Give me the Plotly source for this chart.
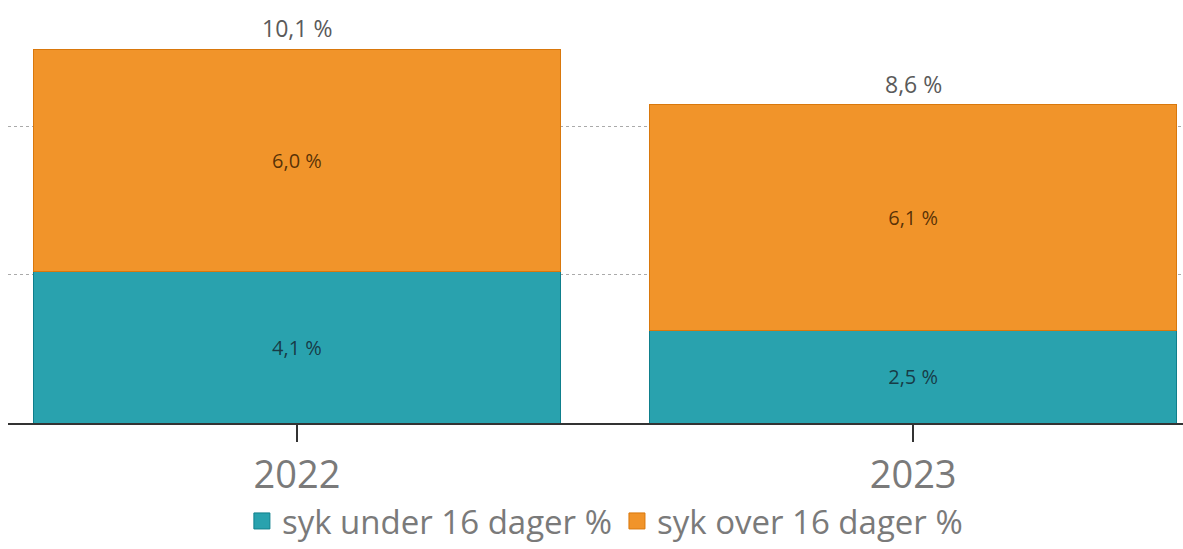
import plotly.graph_objects as go

years = ["2022", "2023"]
under_16 = [4.1, 2.5]
over_16 = [6.0, 6.1]
totals = [round(a + b, 1) for a, b in zip(under_16, over_16)]

series_names = ["syk under 16 dager %", "syk over 16 dager %"]
fill_colors = ["#29A2AE", "#F1942A"]
edge_colors = ["#0E7F8C", "#D9780C"]
label_colors = ["rgba(20,40,50,0.85)", "rgba(60,30,0,0.85)"]

fig = go.Figure()
for vals, name, fc, ec, lc in zip([under_16, over_16], series_names, fill_colors, edge_colors, label_colors):
    fig.add_trace(go.Bar(
        x=years, y=vals, name=name, showlegend=False,
        marker=dict(color=fc, line=dict(color=ec, width=1)),
        texttemplate="%{y:.1f} %", textposition="inside", insidetextanchor="middle",
        textfont=dict(size=20, color=lc, family="Open Sans"),
        hoverinfo="skip",
    ))
# legend entries (larger square symbols)
for name, fc, ec in zip(series_names, fill_colors, edge_colors):
    fig.add_trace(go.Scatter(
        x=[None], y=[None], mode="markers", name=name,
        marker=dict(symbol="square", size=16, color=fc, line=dict(color=ec, width=1)),
        hoverinfo="skip",
    ))

for i, t in enumerate(totals):
    fig.add_annotation(
        x=i, y=t, xref="x", yref="y",
        text=f"{t:.1f}".replace(".", ",") + " %", showarrow=False,
        yanchor="bottom", yshift=3,
        font=dict(size=23, color="#5a5a5a", family="Open Sans"),
    )

fig.update_layout(
    width=1183, height=549,
    margin=dict(l=8, r=0, t=0, b=126),
    barmode="stack", bargap=0.145,
    separators=", ",
    plot_bgcolor="white", paper_bgcolor="white",
    font=dict(family="Open Sans", color="#666666"),
    showlegend=True,
    legend=dict(orientation="h", x=0.508, xanchor="center", y=-0.232, yanchor="middle",
                traceorder="normal", font=dict(size=33, color="#7a7a7a"),
                itemwidth=30),
    xaxis=dict(type="category", range=[-0.469, 1.438], showline=True,
               linecolor="#333333", linewidth=2, ticks="outside", ticklen=17,
               tickwidth=2, tickcolor="#333333",
               tickfont=dict(size=38, color="#7a7a7a", family="Open Sans"),
               showgrid=False),
    yaxis=dict(range=[0, 11.43], showticklabels=False, tickvals=[4, 8],
               showgrid=True, gridcolor="#AAAAAA", griddash="dot", gridwidth=1,
               zeroline=False, showline=False),
)

fig.write_html("out.html")
